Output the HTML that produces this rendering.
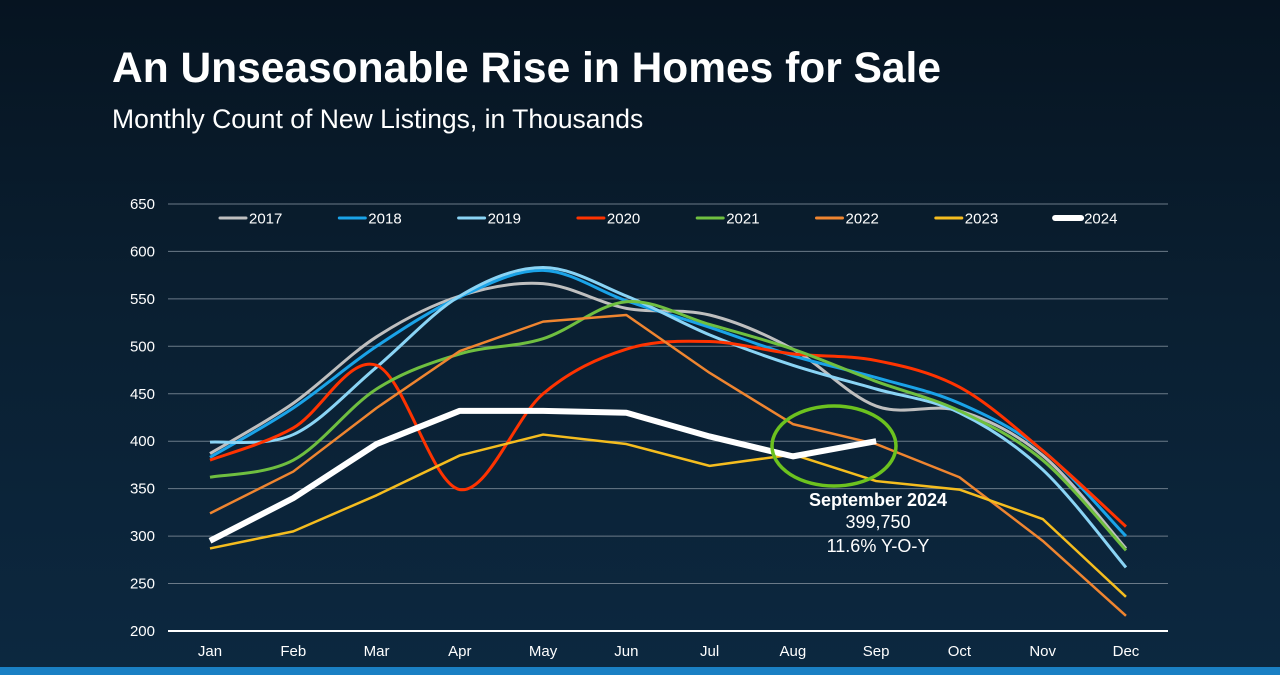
<!DOCTYPE html>
<html><head><meta charset="utf-8"><style>
html,body{margin:0;padding:0;width:1280px;height:675px;overflow:hidden}
body{background:linear-gradient(180deg,#061421 0%,#0a1f31 45%,#0c2840 100%);font-family:"Liberation Sans",sans-serif;position:relative}
#title{position:absolute;left:112px;top:45px;color:#fff;font-size:42.5px;font-weight:bold;margin:0}
#sub{position:absolute;left:112px;top:104px;color:#fff;font-size:26.5px;margin:0}
#bar{position:absolute;left:0;top:667px;width:1280px;height:8px;background:#1a80c4}
svg{position:absolute;left:0;top:0}
</style></head><body>
<h1 id="title">An Unseasonable Rise in Homes for Sale</h1>
<p id="sub">Monthly Count of New Listings, in Thousands</p>
<div id="bar"></div>
<svg id="chart" width="1280" height="675"></svg>
<script>
const months=["Jan","Feb","Mar","Apr","May","Jun","Jul","Aug","Sep","Oct","Nov","Dec"];
const yTicks=[200,250,300,350,400,450,500,550,600,650];
const years=["2017","2018","2019","2020","2021","2022","2023","2024"];
const s2017=[387,440,510,553,566,540,533,497,437,432,385,287];
const s2018=[383,435,500,552,580,548,520,490,467,440,390,300];
const s2019=[399,407,478,553,583,553,512,480,455,430,370,267];
const s2020=[380,414,480,349,450,497,505,492,485,457,390,310];
const s2021=[362,380,455,492,508,547,523,497,463,432,380,285];
const s2022=[324,368,435,495,526,533,472,418,397,362,295,216];
const s2023=[287,305,343,385,407,397,374,386,358,349,318,236];
const s2024=[295,340,397,432,432,430,405,384,400];
const series=[s2017,s2018,s2019,s2020,s2021,s2022,s2023,s2024];
const colors=["#bfbfbf","#1aa3e8","#8ad4f5","#ff3300","#6fbf40","#ef8530","#f5bd1f","#ffffff"];
const widths=[3,3,3,3,3,2.5,2.5,6];
const smooth=[true,true,true,true,true,false,false,false];
const svg=document.getElementById('chart');const NS="http://www.w3.org/2000/svg";
const x=i=>210+i*83.27, y=v=>631-(v-200)*0.949;
function mk(t,a,p){const e=document.createElementNS(NS,t);for(const k in a)e.setAttribute(k,a[k]);(p||svg).appendChild(e);return e;}
yTicks.forEach(v=>{
 const g=mk('line',{x1:168,x2:1168,y1:y(v),y2:y(v),stroke:v==200?'#fff':'#6b7a88','stroke-width':v==200?2:1});
 
 
 const t=mk('text',{x:155,y:y(v)+5,fill:'#fff','font-size':15,'text-anchor':'end'});t.textContent=v;
 
 
});
months.forEach((m,i)=>{const t=mk('text',{x:x(i),y:656,fill:'#fff','font-size':15,'text-anchor':'middle'});t.textContent=m;
 
 });
function pathD(d,sm){const p=d.map((v,i)=>[x(i),y(v)]);let s='M'+p[0][0]+','+p[0][1];
 for(let i=1;i<p.length;i++){if(!sm){s+='L'+p[i][0]+','+p[i][1];continue;}
  const p0=p[i-2]||p[i-1],p1=p[i-1],p2=p[i],p3=p[i+1]||p[i];const k=1/6;
  s+='C'+(p1[0]+(p2[0]-p0[0])*k)+','+(p1[1]+(p2[1]-p0[1])*k)+' '+(p2[0]-(p3[0]-p1[0])*k)+','+(p2[1]-(p3[1]-p1[1])*k)+' '+p2[0]+','+p2[1];}
 return s;}
series.forEach((d,i)=>{const e=mk('path',{d:pathD(d,smooth[i]),fill:'none',stroke:colors[i],'stroke-width':widths[i],'stroke-linejoin':'round'});
 
 
 const lx=220+i*119.3;
 const g=mk('g',{});
 
 
 mk('line',{x1:lx,x2:lx+26,y1:218,y2:218,stroke:colors[i],'stroke-width':i==7?6:3,'stroke-linecap':'round'},g);
 const t=mk('text',{x:lx+29,y:223.5,fill:'#fff','font-size':15},g);t.textContent=years[i];});
const el=mk('ellipse',{cx:834,cy:446,rx:62,ry:40,fill:'none',stroke:'#6cc21f','stroke-width':3.5});


[["September 2024",506,'bold'],["399,750",528,'normal'],["11.6% Y-O-Y",552,'normal']].forEach((a,i)=>{
 const t=mk('text',{x:878,y:a[1],fill:'#fff','font-size':18,'font-weight':a[2],'text-anchor':'middle'});t.textContent=a[0];
 
 });
</script>
</body></html>
